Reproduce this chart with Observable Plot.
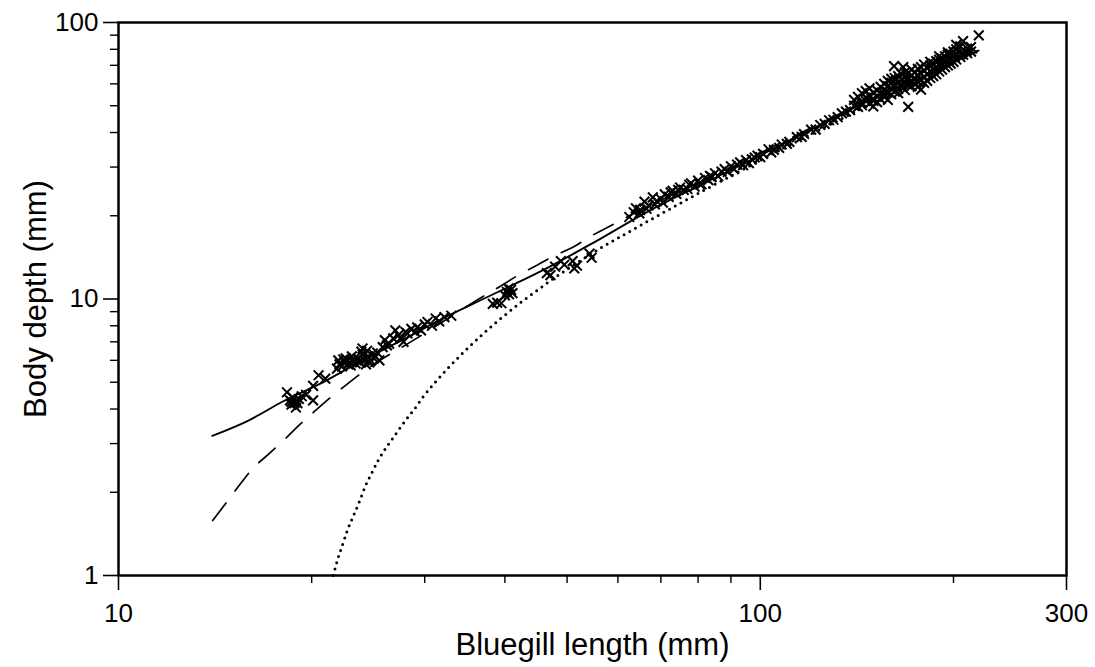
<!DOCTYPE html>
<html>
<head>
<meta charset="utf-8">
<script src="https://cdn.jsdelivr.net/npm/d3@7"></script>
<script src="https://cdn.jsdelivr.net/npm/@observablehq/plot@0.6"></script>
<style>
  html, body { margin: 0; padding: 0; background: #fff; }
  #chart { width: 1095px; height: 667px; }
</style>
</head>
<body>
<div id="chart"></div>
<script>
// Axis ticks
const majorX = [10, 100, 300];
const minorX = [20, 30, 40, 50, 60, 70, 80, 90, 200];
const majorY = [1, 10, 100];
const minorY = [2, 3, 4, 5, 6, 7, 8, 9, 20, 30, 40, 50, 60, 70, 80, 90];
const xTitle = "Bluegill length (mm)";
const yTitle = "Body depth (mm)";

// Fitted curves
const solidLength = [14, 16, 18, 21, 24, 28, 32, 37, 42, 47, 55, 67, 80, 97, 120, 143, 180, 218];
const solidDepth  = [3.2, 3.65, 4.25, 5.05, 6.0, 7.2, 8.5, 10.0, 11.5, 13.1, 16.0, 20.8, 25.6, 31.9, 41, 50.4, 64, 79];

const dashedLength = [14.02, 14.71, 15.52, 16.09, 17.17, 17.98, 19.12, 20.02, 21.38, 22.43, 23.86, 29.6, 36.92, 39.42, 41.6, 44.97, 47.47, 51.28, 53.8, 58.14, 67.5, 80.8, 100.2, 143.4, 218.9];
const dashedDepth  = [1.58, 1.83, 2.16, 2.40, 2.76, 3.04, 3.50, 3.85, 4.40, 4.81, 5.38, 7.37, 10.19, 11.15, 12.05, 13.28, 14.23, 15.47, 16.6, 18.28, 21.9, 26.5, 33.8, 50.9, 79.2];

const dottedLength = [21.61, 21.95, 22.35, 22.75, 23.25, 23.75, 24.21, 24.74, 25.39, 26.17, 27.05, 27.94, 28.93, 29.88, 30.97, 34.52, 39.15, 46.34, 56.44, 62.85, 80.8, 100.2, 143.4, 218.9];
const dottedDepth  = [1.0, 1.143, 1.295, 1.464, 1.65, 1.858, 2.089, 2.317, 2.61, 2.917, 3.25, 3.614, 4.005, 4.452, 4.92, 6.43, 8.39, 11.33, 15.30, 17.64, 24.38, 31.78, 48.6, 78.8];

// Observations, by size group (length mm, depth mm)
const smallLength = [18.3, 18.5, 18.6, 18.7, 18.8, 18.9, 18.9, 19.1, 19.3, 19.6, 20.1, 20.1, 20.5, 21.0, 18.6, 19.0];
const smallDepth  = [4.6, 4.3, 4.15, 4.4, 4.2, 4.3, 4.05, 4.35, 4.45, 4.5, 4.3, 4.85, 5.3, 5.15, 4.25, 4.2];

const juvLength = [21.9, 22.0, 22.1, 22.3, 22.5, 22.6, 22.8, 23.0, 23.2, 23.4, 23.6, 23.8, 24.0, 24.0, 24.2, 24.3, 24.5, 24.7, 24.9, 25.0, 25.3, 25.5, 24.4, 23.9, 22.4, 23.1, 23.7, 24.6, 25.1, 22.9,
  25.8, 26.0, 26.4, 26.8, 27.0, 27.3, 27.8, 28.0, 28.2, 28.6, 29.2, 29.6, 30.0, 30.3, 30.8, 31.2, 31.6, 32.2, 33.0, 26.2, 27.5, 29.0];
const juvDepth  = [5.6, 6.0, 5.8, 5.7, 5.9, 6.1, 5.8, 5.75, 6.0, 5.85, 6.1, 5.9, 6.62, 6.3, 6.0, 5.8, 6.2, 6.0, 6.35, 6.1, 6.4, 6.0, 6.5, 6.45, 6.05, 6.2, 5.95, 5.9, 6.2, 5.9,
  6.7, 7.1, 6.9, 7.2, 7.7, 7.4, 7.0, 7.6, 7.5, 7.8, 7.9, 7.7, 8.1, 8.26, 8.0, 8.5, 8.3, 8.6, 8.7, 6.8, 7.2, 7.6];

const midLength = [38.3, 38.9, 39.5, 40.0, 40.3, 40.6, 40.9, 41.1, 40.5,
  46.5, 47.1, 47.9, 48.9, 49.5, 51.0, 51.3, 51.8, 54.2, 54.6];
const midDepth  = [9.6, 9.7, 9.65, 10.3, 10.6, 10.4, 10.8, 10.5, 10.9,
  12.4, 12.2, 13.1, 13.7, 13.3, 13.7, 12.9, 13.2, 14.6, 14.1];

const youngLength = [62.5, 63.5, 64, 64.8, 65, 66, 66.5, 67, 68, 68.5, 69, 70, 70.5, 71, 72, 72.5, 73, 74, 74.5, 75, 76, 77, 77.5, 78, 79, 80, 80.5, 81, 82, 83, 83.5, 84, 85, 86, 87, 88, 89, 90, 91, 92, 93, 94, 95, 96, 97, 98, 99, 100, 101, 103, 104, 105, 107, 108, 110, 111, 114, 116, 117, 120, 122, 124, 126, 128, 130, 132, 134, 136, 138];
const youngDepth  = [19.8, 20.6, 21.3, 20.4, 21.0, 22.5, 21.2, 21.8, 23.3, 22.0, 22.6, 23.0, 22.3, 23.9, 23.4, 24.3, 24.6, 24.0, 24.8, 25.3, 24.8, 25.0, 25.9, 26.2, 25.5, 26.8, 26.0, 26.0, 27.4, 26.9, 27.9, 27.6, 28.5, 27.8, 28.9, 29.5, 28.8, 30.2, 29.5, 30.6, 31.2, 30.5, 31.8, 31.0, 32.0, 32.5, 33.0, 32.6, 33.5, 34.8, 33.9, 34.6, 35.2, 36.2, 36.4, 37.0, 38.5, 38.6, 39.5, 41.0, 41.0, 42.6, 43.0, 44.3, 44.5, 45.5, 46.9, 47.6, 48.2];

const adultLength = [140, 140, 142, 142, 144, 144, 144, 146, 146, 146, 148, 148, 148, 150, 150, 150, 150, 152, 152, 152, 154, 154, 154, 156, 156, 156, 156, 158, 158, 158, 158, 160, 160, 160, 160, 161.6, 162, 162, 162, 164, 164, 164, 164, 166, 166, 166, 166, 167, 168, 168, 168, 168, 170, 170, 170, 170, 172, 172, 172, 172, 174, 174, 174, 176, 176, 176, 176, 178, 178, 178, 178, 180, 180, 180, 180, 182, 182, 182, 184, 184, 184, 184, 186, 186, 186, 188, 188, 188, 190, 190, 190, 190, 192, 192, 192, 194, 194, 194, 196, 196, 196, 196, 198, 198, 198, 200, 200, 200, 202, 202, 202, 202, 205, 205, 205, 207, 207, 210, 210, 213, 213, 219];
const adultDepth  = [50.0, 52.5, 49.5, 53.8, 51.2, 55.5, 50.2, 52.0, 56.5, 53.5, 51.0, 54.2, 57.8, 49.7, 53.0, 55.8, 52.0, 54.0, 56.8, 51.5, 52.8, 55.5, 58.5, 53.8, 57.0, 60.0, 55.2, 52.5, 56.0, 58.8, 61.5, 55.0, 57.8, 60.5, 62.5, 69.5, 56.2, 59.5, 63.0, 57.5, 60.5, 64.0, 55.5, 58.5, 62.0, 65.0, 60.0, 69.0, 57.0, 60.8, 63.5, 66.0, 49.5, 59.5, 62.5, 65.5, 58.8, 61.5, 64.2, 67.5, 60.0, 63.0, 66.0, 61.0, 64.5, 68.0, 58.5, 57.2, 62.0, 65.5, 69.0, 60.5, 63.5, 67.0, 70.5, 61.5, 65.0, 68.5, 63.0, 66.5, 70.0, 72.0, 64.0, 67.5, 71.0, 65.0, 69.0, 72.5, 66.5, 70.0, 73.5, 75.5, 67.5, 71.0, 74.0, 69.0, 72.5, 75.5, 70.0, 73.5, 76.5, 78.0, 71.0, 74.5, 77.0, 72.0, 75.5, 78.5, 73.5, 76.5, 80.0, 83.0, 75.0, 78.0, 82.0, 85.6, 76.5, 77.5, 80.5, 78.5, 81.5, 89.8];

const pairs = (xs, ys) => xs.map((x, i) => ({x, y: ys[i]}));
const solid = pairs(solidLength, solidDepth);
const dashed = pairs(dashedLength, dashedDepth);
const dotted = pairs(dottedLength, dottedDepth);
const obs = [
  ...pairs(smallLength, smallDepth),
  ...pairs(juvLength, juvDepth),
  ...pairs(midLength, midDepth),
  ...pairs(youngLength, youngDepth),
  ...pairs(adultLength, adultDepth)
];

const chart = Plot.plot({
  width: 1095,
  height: 667,
  marginLeft: 118,
  marginRight: 29,
  marginTop: 22,
  marginBottom: 92,
  x: {type: "log", domain: [10, 300]},
  y: {type: "log", domain: [1, 100]},
  style: {fontFamily: "'Liberation Sans', Arial, sans-serif", fontSize: "26px", color: "black", background: "white"},
  marks: [
    Plot.axisX(majorX, {tickSize: 15, strokeWidth: 1.6, tickFormat: () => "", label: null}),
    Plot.axisX(minorX, {tickSize: 8, strokeWidth: 1.4, tickFormat: () => "", label: null}),
    Plot.axisY(majorY, {tickSize: 15, strokeWidth: 1.6, tickFormat: () => "", label: null}),
    Plot.axisY(minorY, {tickSize: 8, strokeWidth: 1.4, tickFormat: () => "", label: null}),
    Plot.text(majorX, {x: d => d, frameAnchor: "bottom", dy: 38, lineAnchor: "middle", textAnchor: "middle", fontSize: 26, text: d => String(d), fill: "black"}),
    Plot.text(majorY, {y: d => d, frameAnchor: "left", dx: -20, lineAnchor: "middle", textAnchor: "end", fontSize: 26, text: d => String(d), fill: "black"}),
    Plot.text([xTitle], {frameAnchor: "bottom", dy: 70, lineAnchor: "middle", textAnchor: "middle", fontSize: 31, text: d => d, fill: "black"}),
    Plot.text([yTitle], {frameAnchor: "left", dx: -82, rotate: -90, lineAnchor: "middle", textAnchor: "middle", fontSize: 31, text: d => d, fill: "black"}),
    Plot.line(dotted, {x: "x", y: "y", stroke: "black", strokeWidth: 3, strokeDasharray: "0,6.5", strokeLinecap: "round", curve: "monotone-x"}),
    Plot.line(dashed, {x: "x", y: "y", stroke: "black", strokeWidth: 1.7, strokeDasharray: "22,15", curve: "monotone-x"}),
    Plot.line(solid, {x: "x", y: "y", stroke: "black", strokeWidth: 1.9, curve: "monotone-x"}),
    Plot.dot(obs, {x: "x", y: "y", symbol: "times", r: 4.5, stroke: "black", strokeWidth: 2}),
    Plot.frame({stroke: "black", strokeWidth: 2.5})
  ]
});
document.getElementById("chart").appendChild(chart);
</script>
</body>
</html>
